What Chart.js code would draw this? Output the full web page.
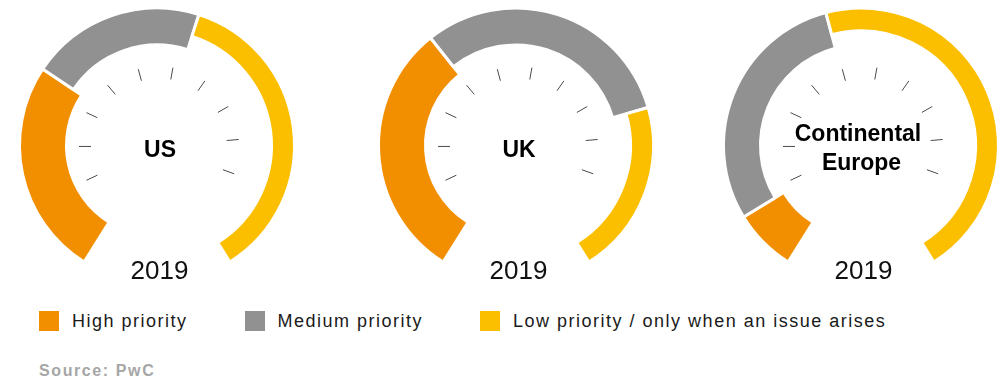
<!DOCTYPE html>
<html>
<head>
<meta charset="utf-8">
<script src="https://cdn.jsdelivr.net/npm/chart.js@4/dist/chart.umd.min.js"></script>
<style>
  html, body { margin:0; padding:0; background:#fff; width:999px; height:380px; overflow:hidden;
    font-family:"Liberation Sans", Arial, Helvetica, sans-serif; }
  .gauge { position:absolute; }
  #legend { position:absolute; left:39px; top:311px; display:flex; align-items:center; }
  .item { display:flex; align-items:center; margin-right:57px; }
  .sw { width:20px; height:20px; margin-right:13px; flex:none; }
  .lt { font-size:18px; letter-spacing:1.5px; color:#1a1a1a; line-height:20px; white-space:nowrap; }
  #source { position:absolute; left:39px; top:362px; font-size:16px; font-weight:bold; color:#a6a6a6;
    letter-spacing:1.6px; white-space:nowrap; }
</style>
</head>
<body>
<div id="g0" class="gauge"><canvas id="c0"></canvas></div>
<div id="g1" class="gauge"><canvas id="c1"></canvas></div>
<div id="g2" class="gauge"><canvas id="c2"></canvas></div>
<div id="legend"></div>
<div id="source">Source: PwC</div>
<script>
// ---------- data ----------
const regions = [['US'], ['UK'], ['Continental', 'Europe']];
const yearLabel = '2019';
const categories = ['High priority', 'Medium priority', 'Low priority / only when an issue arises'];
const highPriority   = [31, 37, 9];
const mediumPriority = [25, 38, 36];
const lowPriority    = [44, 25, 55];
const sourceText = 'Source: PwC';

// ---------- style ----------
const COLORS = ['#F28F00', '#919191', '#FBBF00'];
const RING_THICKNESS = [44, 34, 20];
const CENTERS_X = [156.5, 515.5, 861];
const CENTER_Y = 145;
const RADIUS = 137.5;
const CIRC = 296;
const BORDER = 3;
const W = 320, H = 330;
const FONT = '"Liberation Sans", Arial, Helvetica, sans-serif';

document.getElementById('source').textContent = sourceText;

// legend built from categories
const legend = document.getElementById('legend');
categories.forEach((c, i) => {
  const it = document.createElement('div'); it.className = 'item';
  const sw = document.createElement('div'); sw.className = 'sw'; sw.style.background = COLORS[i];
  const t = document.createElement('div'); t.className = 'lt'; t.textContent = c;
  it.appendChild(sw); it.appendChild(t); legend.appendChild(it);
});

const gaugePlugin = {
  id: 'gaugeDecor',
  beforeDatasetsDraw(chart) {
    const meta = chart.getDatasetMeta(0);
    meta.data.forEach((arc, i) => {
      arc.innerRadius = Math.max(arc.outerRadius - RING_THICKNESS[i] - BORDER, 0);
    });
  },
  afterDraw(chart) {
    const arc = chart.getDatasetMeta(0).data[0];
    const cx = arc.x, cy = arc.y;
    const ctx = chart.ctx;
    const lines = chart.options.plugins.gaugeDecor.label;
    ctx.save();
    // tick marks
    ctx.strokeStyle = '#4a4a4a';
    ctx.lineWidth = 1;
    const tx = cx + 2, ty = cy + 1;
    for (let k = 0; k < 10; k++) {
      const a = (-115 + 25 * k) * Math.PI / 180;
      const sx = Math.sin(a), sy = -Math.cos(a);
      ctx.beginPath();
      ctx.moveTo(tx + sx * 68, ty + sy * 68);
      ctx.lineTo(tx + sx * 80, ty + sy * 80);
      ctx.stroke();
    }
    // centre label
    ctx.fillStyle = '#000';
    ctx.textAlign = 'center';
    ctx.textBaseline = 'alphabetic';
    ctx.font = 'bold 23px ' + FONT;
    if (lines.length === 1) {
      ctx.fillText(lines[0], cx + 3, cy + 11.5);
    } else {
      ctx.fillText(lines[0], cx - 3, cy - 4.3);
      ctx.fillText(lines[1], cx + 0.5, cy + 24.7);
    }
    // year
    ctx.fillStyle = '#111';
    ctx.font = '26px ' + FONT;
    ctx.fillText(yearLabel, cx + 2.5, cy + 133.8);
    ctx.restore();
  }
};

const halfGap = (360 - CIRC) / 2 * Math.PI / 180;
const offY = (1 - Math.cos(halfGap)) / 2 * RADIUS;

regions.forEach((lab, r) => {
  const wrap = document.getElementById('g' + r);
  const cv = document.getElementById('c' + r);
  cv.width = W; cv.height = H;
  cv.style.width = W + 'px'; cv.style.height = H + 'px';
  wrap.style.left = (CENTERS_X[r] - W / 2) + 'px';
  wrap.style.top = (CENTER_Y - H / 2 - offY) + 'px';
  new Chart(cv, {
    type: 'doughnut',
    data: {
      labels: categories,
      datasets: [{
        data: [highPriority[r], mediumPriority[r], lowPriority[r]],
        backgroundColor: COLORS,
        borderColor: '#ffffff',
        borderWidth: BORDER,
        hoverOffset: 0
      }]
    },
    options: {
      responsive: false,
      animation: false,
      events: [],
      devicePixelRatio: 1,
      rotation: -CIRC / 2,
      circumference: CIRC,
      radius: RADIUS,
      cutout: 0,
      layout: { padding: 0 },
      plugins: {
        legend: { display: false },
        tooltip: { enabled: false },
        gaugeDecor: { label: lab }
      }
    },
    plugins: [gaugePlugin]
  });
});
</script>
</body>
</html>
